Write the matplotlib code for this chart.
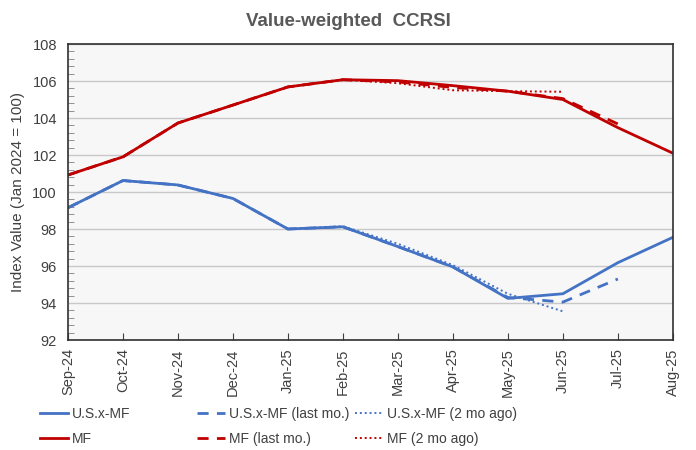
import numpy as np
import matplotlib.pyplot as plt
from matplotlib.ticker import MultipleLocator

plt.rcParams['font.family'] = ['Liberation Sans', 'DejaVu Sans']

months = ['Sep-24', 'Oct-24', 'Nov-24', 'Dec-24', 'Jan-25', 'Feb-25',
          'Mar-25', 'Apr-25', 'May-25', 'Jun-25', 'Jul-25', 'Aug-25']

# U.S. ex-multifamily
usxmf = [99.15, 100.62, 100.38, 99.65, 98.0, 98.12, 97.05, 95.95, 94.25, 94.5, 96.18, 97.55]
usxmf_last = [99.15, 100.62, 100.38, 99.65, 98.0, 98.12, 97.05, 95.95, 94.3, 94.05, 95.3]
usxmf_2mo = [99.15, 100.62, 100.38, 99.65, 98.0, 98.15, 97.2, 96.05, 94.5, 93.55]

# multifamily
mf = [100.92, 101.9, 103.73, 104.7, 105.68, 106.07, 106.02, 105.75, 105.45, 105.0, 103.48, 102.1]
mf_last = [100.92, 101.9, 103.73, 104.7, 105.68, 106.07, 105.95, 105.65, 105.45, 105.05, 103.68]
mf_2mo = [100.92, 101.9, 103.73, 104.7, 105.68, 106.07, 105.88, 105.5, 105.45, 105.42]

blue = '#4472C4'
red = '#C00000'

fig = plt.figure(figsize=(6.96, 4.5), dpi=100)
ax = fig.add_axes([0.0977, 0.2444, 0.869, 0.6578])
ax.set_facecolor('#f7f7f7')

l1, = ax.plot(range(len(usxmf)), usxmf, color=blue, lw=2)
l2, = ax.plot(range(len(usxmf_last)), usxmf_last, color=blue, lw=2, ls=(0, (4, 3)))
l3, = ax.plot(range(len(usxmf_2mo)), usxmf_2mo, color=blue, lw=1.4, ls=(0, (1, 1.5)))
l4, = ax.plot(range(len(mf)), mf, color=red, lw=2)
l5, = ax.plot(range(len(mf_last)), mf_last, color=red, lw=2, ls=(0, (4, 3)))
l6, = ax.plot(range(len(mf_2mo)), mf_2mo, color=red, lw=1.4, ls=(0, (1, 1.5)))

ax.set_xlim(0, len(months) - 1)
ax.set_ylim(92, 108)
ax.set_xticks(range(len(months)))
ax.set_xticklabels(months, rotation=90, fontsize=10.5, color='#404040')
ax.yaxis.set_major_locator(MultipleLocator(2))
ax.yaxis.set_minor_locator(MultipleLocator(0.4))
ax.tick_params(axis='y', labelsize=10.5, labelcolor='#404040', direction='in', length=0, pad=8)
ax.tick_params(axis='y', which='minor', direction='in', length=4, color='#808080')
ax.tick_params(axis='x', direction='in', length=5, color='#404040', pad=6)
ax.grid(axis='y', color='#c8c8c8', lw=1)
ax.set_axisbelow(True)
for s in ax.spines.values():
    s.set_color('#303030')
    s.set_linewidth(1.2)

ax.set_ylabel('Index Value (Jan 2024 = 100)', fontsize=11, color='#404040', labelpad=5)
fig.suptitle('Value-weighted  CCRSI', x=0.5, y=0.972, fontsize=13.5, fontweight='bold', color='#595959')

leg_kw = dict(frameon=False, fontsize=10, handlelength=2.0, handletextpad=0.3,
              labelspacing=0.8, borderpad=0, borderaxespad=0,
              labelcolor='#404040', loc='upper left')
fig.legend([l1, l4], ['U.S.x-MF', 'MF'], bbox_to_anchor=(0.0575, 0.096), **leg_kw)
fig.legend([l2, l5], ['U.S.x-MF (last mo.)', 'MF (last mo.)'], bbox_to_anchor=(0.283, 0.096), **leg_kw)
fig.legend([l3, l6], ['U.S.x-MF (2 mo ago)', 'MF (2 mo ago)'], bbox_to_anchor=(0.51, 0.096), **leg_kw)

fig.savefig('out.png', dpi=100)
